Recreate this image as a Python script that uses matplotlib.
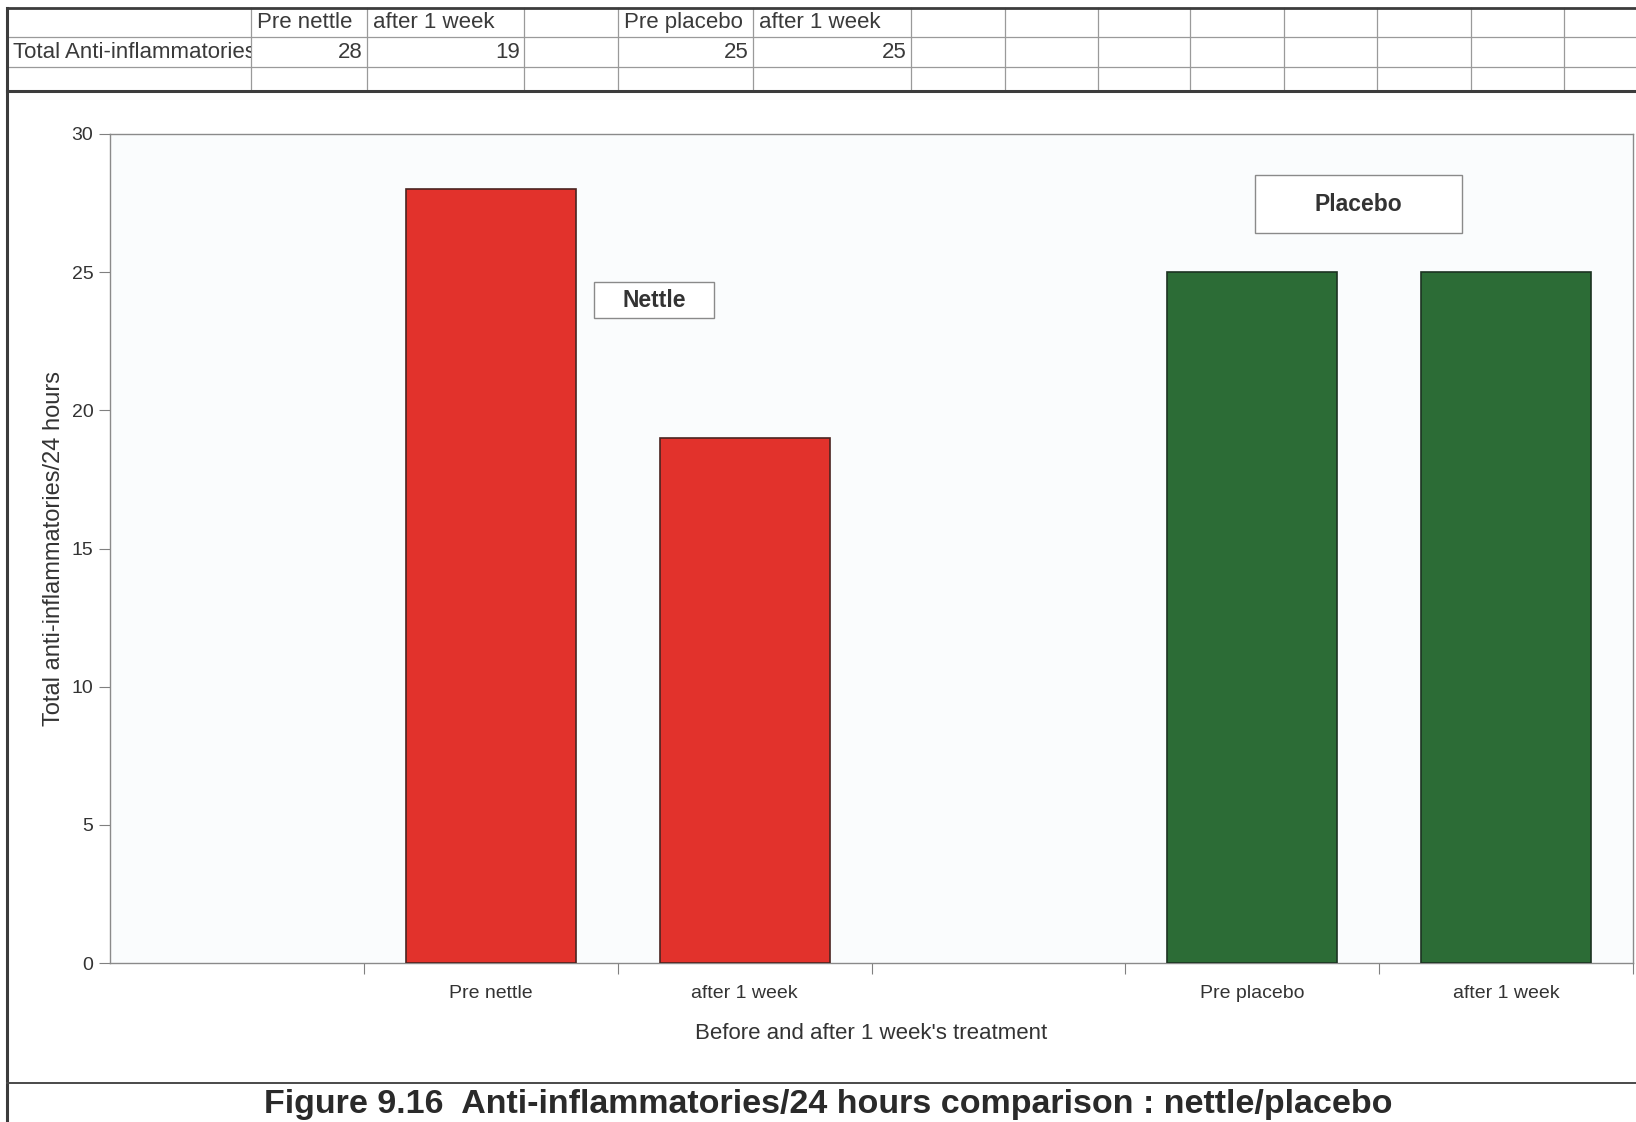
import matplotlib
matplotlib.use("Agg")
import matplotlib.pyplot as plt
import numpy as np
from matplotlib.patches import Rectangle
from matplotlib.transforms import Bbox

plt.rcParams["font.family"] = ["Liberation Sans", "DejaVu Sans"]

# data
nettle_labels = ["Pre nettle", "after 1 week"]
nettle_values = [28, 19]
placebo_labels = ["Pre placebo", "after 1 week"]
placebo_values = [25, 25]
row_title = "Total Anti-inflammatories"
y_ticks = [0, 5, 10, 15, 20, 25, 30]

W, H = 1636, 1122
fig = plt.figure(figsize=(W / 100, H / 100), dpi=100)
fig.patch.set_facecolor("white")

# chart: six category slots, blank slot in front of each group
slots = [""] + nettle_labels + [""] + placebo_labels
slot_values = [np.nan] + nettle_values + [np.nan] + placebo_values
slot_colors = ["none", "#e2322c", "#e2322c", "none", "#2c6c36", "#2c6c36"]
slot_edges = ["none", "#4a2420", "#4a2420", "none", "#1c3322", "#1c3322"]
x = np.arange(len(slots))

ax = fig.add_axes([110 / W, 1 - 963 / H, (1633 - 110) / W, (963 - 134) / H])
ax.set_facecolor("#fafcfd")
for xi, v, c, e in zip(x, slot_values, slot_colors, slot_edges):
    if not np.isnan(v):
        ax.bar(xi, v, width=0.67, color=c, edgecolor=e, linewidth=1.2, zorder=3)

ax.set_xlim(-0.5, len(slots) - 0.5)
ax.set_ylim(0, 30)
ax.set_yticks(y_ticks)
ax.set_xticks(np.arange(len(slots)) + 0.5)
ax.set_xticklabels([])
ax.set_xticks(x[[s != "" for s in slots]], minor=True)
ax.set_xticklabels([s for s in slots if s != ""], minor=True)
ax.tick_params(axis="x", which="major", direction="out", length=8, color="#808080")
ax.tick_params(axis="x", which="minor", length=0, pad=16, labelsize=14, labelcolor="#333333")
ax.tick_params(axis="y", direction="out", length=8, color="#808080", pad=4,
               labelsize=14, labelcolor="#333333")
for sp in ax.spines.values():
    sp.set_color("#8a8a8a")
    sp.set_linewidth(1.0)

ax.set_xlabel("Before and after 1 week's treatment", fontsize=16, color="#333333")
ax.xaxis.set_label_coords(0.5, -0.0856)
ax.xaxis.label.set_va("center")
ax.set_ylabel("Total anti-inflammatories/24 hours", fontsize=17, color="#333333")
ax.yaxis.set_label_coords(-0.037, 0.5)
ax.yaxis.label.set_va("center")

# sheet overlay in pixel coordinates
sheet = fig.add_axes([0, 0, 1, 1], facecolor="none")
sheet.set_xlim(0, W)
sheet.set_ylim(H, 0)
sheet.axis("off")

col_edges = [7, 251, 367, 524, 618, 753, 911, 1005, 1098, 1190, 1284, 1377, 1471, 1564, W]
row_edges = [8, 37, 67, 91]

for cx in col_edges[1:-1]:
    sheet.plot([cx, cx], [row_edges[0], row_edges[-1]], color="#9a9a9a", lw=0.9)
for ry in row_edges[1:-1]:
    sheet.plot([col_edges[0], W], [ry, ry], color="#9a9a9a", lw=0.9)
sheet.plot([col_edges[0], W], [row_edges[0], row_edges[0]], color="#3c3c3c", lw=2)
sheet.plot([col_edges[0], W], [row_edges[-1], row_edges[-1]], color="#3c3c3c", lw=2.2)
sheet.plot([col_edges[0], col_edges[0]], [row_edges[0], H], color="#3c3c3c", lw=2.2)
sheet.plot([col_edges[0], W], [1083, 1083], color="#4a4a4a", lw=1.4)

# header and value cells (columns B, C, E, F)
cell_cols = [1, 2, 4, 5]
for ci, lab, val in zip(cell_cols, nettle_labels + placebo_labels, nettle_values + placebo_values):
    sheet.text(col_edges[ci] + 6, 22, lab, fontsize=16, color="#3a3a3a", va="center", ha="left")
    sheet.text(col_edges[ci + 1] - 4, 52, str(val), fontsize=16, color="#3a3a3a",
               va="center", ha="right")

t = sheet.text(13, 52, row_title, fontsize=16, color="#3a3a3a", va="center", ha="left")
t.set_clip_box(Bbox([[col_edges[0], H - 67], [col_edges[1], H - 37]]))
t.set_clip_on(True)

# group labels
for (x0, y0, x1, y1), name in [((594, 282, 714, 318), "Nettle"), ((1255, 175, 1462, 233), "Placebo")]:
    sheet.add_patch(Rectangle((x0, y0), x1 - x0, y1 - y0, facecolor="white",
                              edgecolor="#8a8a8a", lw=1.0))
    sheet.text((x0 + x1) / 2, (y0 + y1) / 2, name, fontsize=16.5, fontweight="bold",
               color="#333333", ha="center", va="center")

sheet.text(828, 1105, "Figure 9.16  Anti-inflammatories/24 hours comparison : nettle/placebo",
           fontsize=24.5, fontweight="bold", color="#2a2a2a", ha="center", va="center")

fig.savefig("out.png", dpi=100)
